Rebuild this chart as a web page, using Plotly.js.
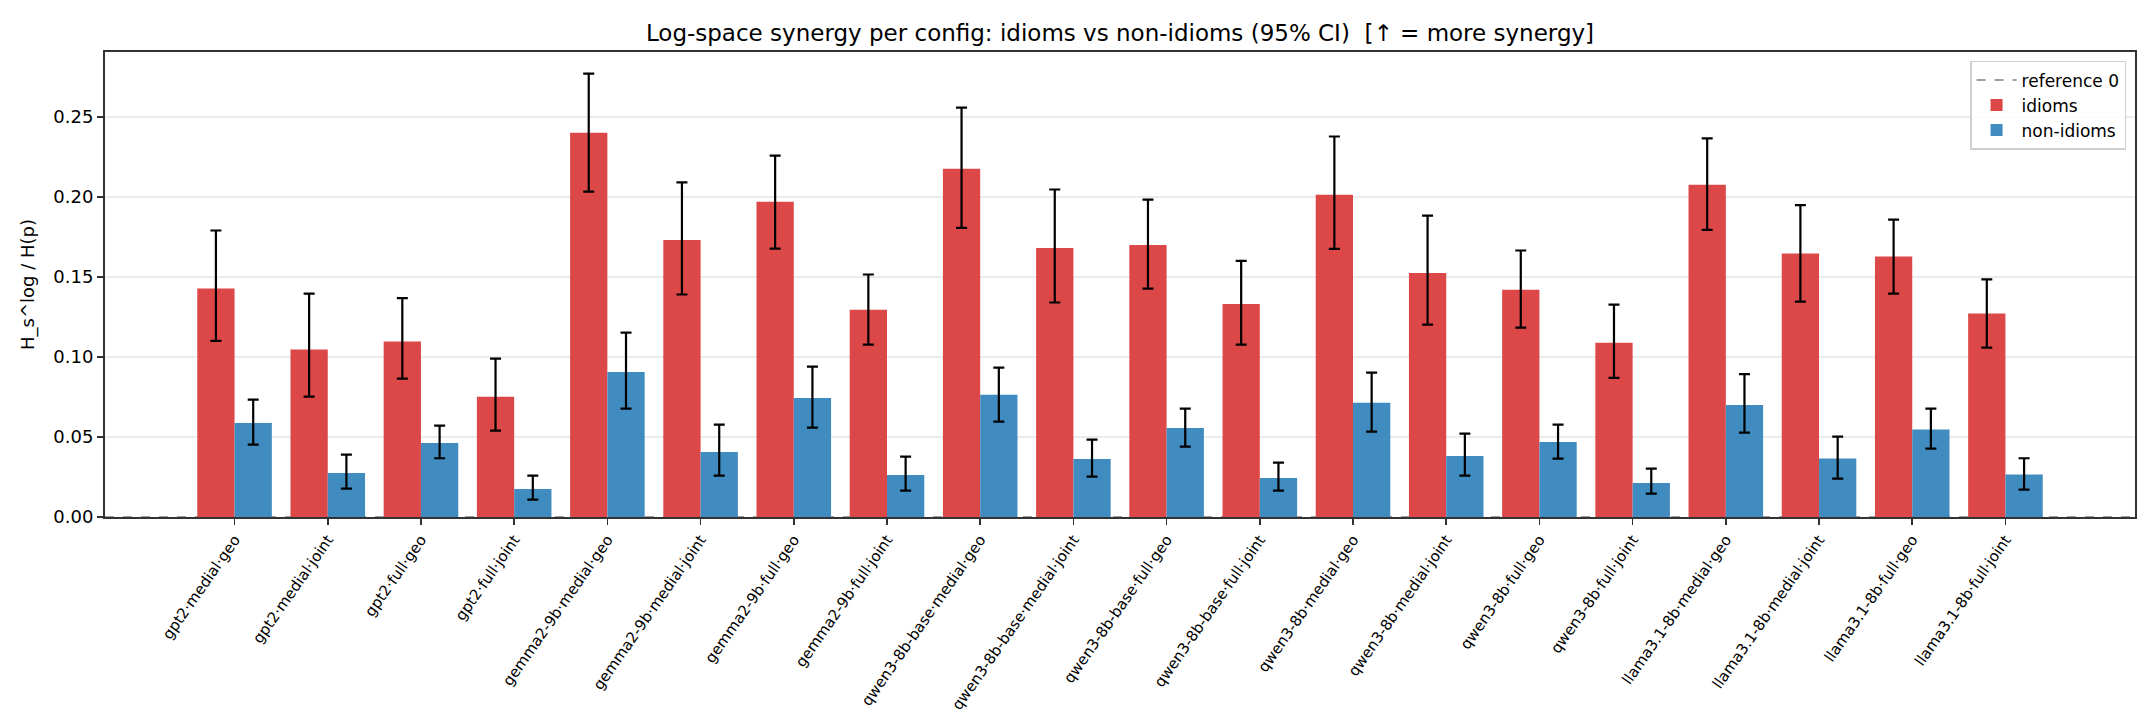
<!DOCTYPE html>
<html>
<head>
<meta charset="utf-8">
<script src="https://cdn.plot.ly/plotly-3.0.1.min.js"></script>
<style>
  html, body { margin: 0; padding: 0; background: #fff; }
  #chart { width: 2156px; height: 728px; }
</style>
</head>
<body>
<div id="chart"></div>
<script>
  const configs = [
    "gpt2·medial·geo", "gpt2·medial·joint", "gpt2·full·geo", "gpt2·full·joint",
    "gemma2-9b·medial·geo", "gemma2-9b·medial·joint", "gemma2-9b·full·geo", "gemma2-9b·full·joint",
    "qwen3-8b-base·medial·geo", "qwen3-8b-base·medial·joint", "qwen3-8b-base·full·geo", "qwen3-8b-base·full·joint",
    "qwen3-8b·medial·geo", "qwen3-8b·medial·joint", "qwen3-8b·full·geo", "qwen3-8b·full·joint",
    "llama3.1-8b·medial·geo", "llama3.1-8b·medial·joint", "llama3.1-8b·full·geo", "llama3.1-8b·full·joint",
  ];

  // idioms: mean and 95% CI bounds
  const idiomsMean = [0.1427, 0.1046, 0.1096, 0.0752, 0.2400, 0.1731, 0.1969, 0.1294, 0.2175, 0.1680,
    0.1700, 0.1331, 0.2013, 0.1525, 0.1419, 0.1088, 0.2075, 0.1646, 0.1627, 0.1271];
  const idiomsLo = [0.1100, 0.0752, 0.0865, 0.0540, 0.2033, 0.1390, 0.1677, 0.1077, 0.1806, 0.1340,
    0.1427, 0.1077, 0.1675, 0.1202, 0.1183, 0.0869, 0.1794, 0.1346, 0.1396, 0.1058];
  const idiomsHi = [0.1790, 0.1396, 0.1367, 0.0990, 0.2770, 0.2090, 0.2258, 0.1515, 0.2558, 0.2046,
    0.1983, 0.1600, 0.2377, 0.1883, 0.1665, 0.1327, 0.2365, 0.1948, 0.1858, 0.1485];

  // non-idioms: mean and 95% CI bounds
  const nonMean = [0.0588, 0.0275, 0.0463, 0.0175, 0.0906, 0.0406, 0.0744, 0.0263, 0.0763, 0.0363,
    0.0556, 0.0244, 0.0713, 0.0381, 0.0469, 0.0213, 0.0700, 0.0365, 0.0546, 0.0265];
  const nonLo = [0.0452, 0.0177, 0.0367, 0.0108, 0.0677, 0.0258, 0.0558, 0.0165, 0.0596, 0.0252,
    0.0440, 0.0165, 0.0533, 0.0258, 0.0365, 0.0146, 0.0527, 0.0240, 0.0427, 0.0171];
  const nonHi = [0.0733, 0.0390, 0.0571, 0.0258, 0.1152, 0.0577, 0.0940, 0.0377, 0.0933, 0.0483,
    0.0677, 0.0340, 0.0902, 0.0521, 0.0577, 0.0302, 0.0892, 0.0502, 0.0677, 0.0367];

  const yTicks = [0, 0.05, 0.10, 0.15, 0.20, 0.25];

  const font = "DejaVu Sans, sans-serif";

  function errorBars(mean, lo, hi) {
    return {
      type: "data",
      symmetric: false,
      array: hi.map((v, i) => v - mean[i]),
      arrayminus: lo.map((v, i) => mean[i] - v),
      color: "#000",
      thickness: 2.2,
      width: 5.5,
    };
  }

  const traces = [
    {
      type: "bar",
      name: "idioms",
      x: configs,
      y: idiomsMean,
      marker: { color: "#dc4748" },
      error_y: errorBars(idiomsMean, idiomsLo, idiomsHi),
      hoverinfo: "x+y",
    },
    {
      type: "bar",
      name: "non-idioms",
      x: configs,
      y: nonMean,
      marker: { color: "#408bbf" },
      error_y: errorBars(nonMean, nonLo, nonHi),
      hoverinfo: "x+y",
    },
  ];

  const n = configs.length;
  const pad = 0.99 + 0.4;

  const layout = {
    width: 2156,
    height: 728,
    paper_bgcolor: "#fff",
    plot_bgcolor: "#fff",
    font: { family: font, color: "#000", size: 18 },
    margin: { l: 105, r: 21, t: 52, b: 211 },
    title: {
      text: "Log-space synergy per config: idioms vs non-idioms (95% CI)  [↑ = more synergy]",
      font: { family: font, size: 23, color: "#000" },
      x: 0.5 * (105 + 2135) / 2156,
      xanchor: "center",
      y: 1 - 33 / 728,
      yanchor: "middle",
    },
    barmode: "group",
    bargap: 0.2,
    bargroupgap: 0,
    showlegend: true,
    legend: {
      x: 0.9956,
      xanchor: "right",
      y: 0.981,
      yanchor: "top",
      bgcolor: "rgba(255,255,255,0.85)",
      bordercolor: "#d0d0d0",
      borderwidth: 1.5,
      font: { family: font, size: 17, color: "#000" },
      traceorder: "normal",
      itemwidth: 40,
      tracegroupgap: 2,
    },
    xaxis: {
      type: "category",
      range: [-pad, n - 1 + pad],
      tickangle: -55,
      tickfont: { family: font, size: 15, color: "#000" },
      ticks: "outside",
      ticklen: 6,
      tickwidth: 1.5,
      tickcolor: "#333",
      showgrid: false,
      showline: true,
      linecolor: "#333",
      linewidth: 2,
      mirror: true,
      zeroline: false,
      automargin: false,
    },
    yaxis: {
      range: [0, 0.2905],
      tickvals: yTicks,
      tickformat: ".2f",
      tickfont: { family: font, size: 18, color: "#000" },
      ticks: "outside",
      ticklen: 6,
      tickwidth: 1.5,
      tickcolor: "#333",
      showgrid: true,
      gridcolor: "#ebebeb",
      gridwidth: 1.5,
      showline: true,
      linecolor: "#333",
      linewidth: 2,
      mirror: true,
      zeroline: false,
      automargin: false,
      title: { text: "H_s^log / H(p)", font: { family: font, size: 18, color: "#000" }, standoff: 14 },
    },
    shapes: [
      {
        type: "line",
        layer: "below",
        xref: "paper",
        x0: 0,
        x1: 1,
        yref: "y",
        y0: 0,
        y1: 0,
        line: { color: "#808080", width: 1.5, dash: "dash" },
        name: "reference 0",
        showlegend: true,
        legendrank: 1,
      },
    ],
  };

  Plotly.newPlot("chart", traces, layout, { displayModeBar: false, staticPlot: true });
</script>
</body>
</html>
